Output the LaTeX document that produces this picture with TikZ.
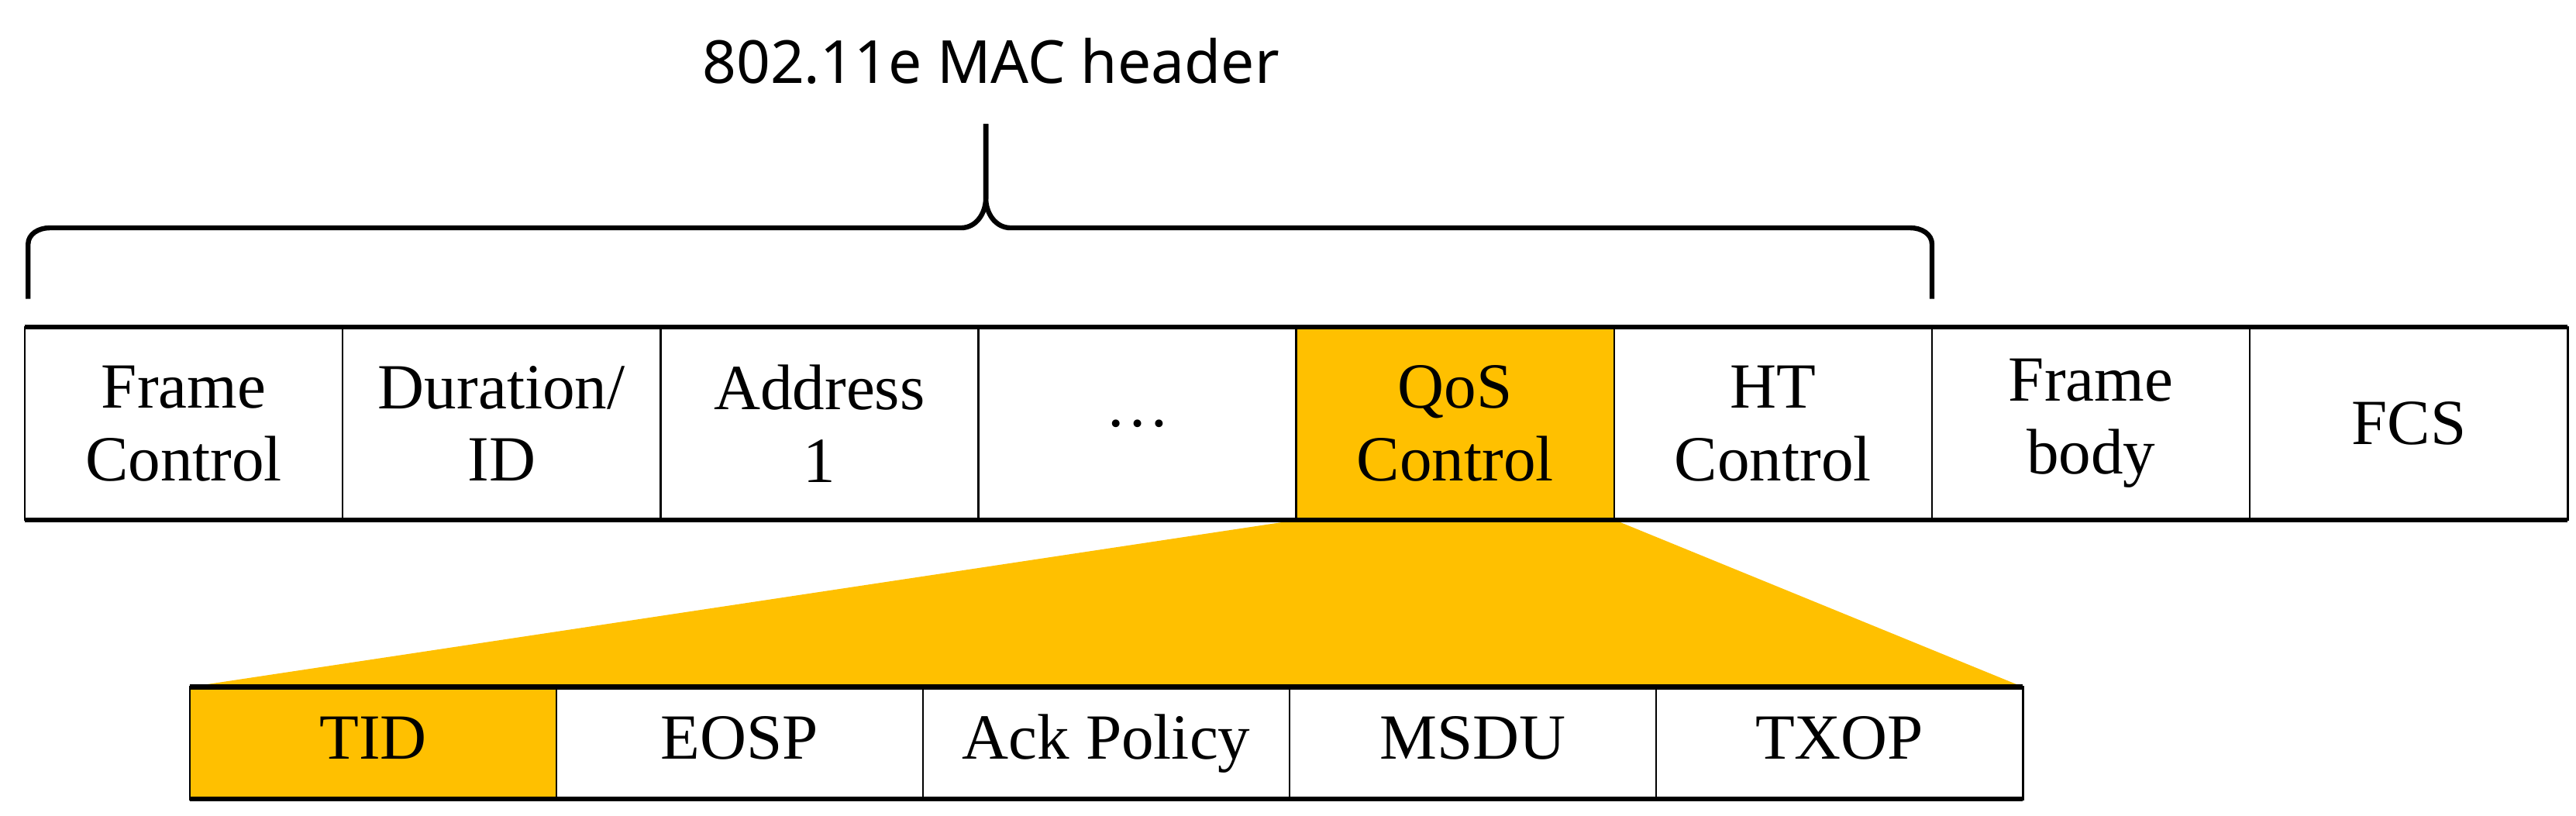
\documentclass[tikz,border=0pt]{standalone}
\usepackage{fontspec}
\setmainfont{Liberation Serif}
\newfontfamily\sans{Noto Sans}
\definecolor{gold}{HTML}{FFC000}
\begin{document}
\begin{tikzpicture}[x=1pt,y=-1pt,
  cell/.style={draw=black,line width=1.2pt,minimum height=#1,inner sep=0pt,outer sep=0pt,align=center,font=\fontsize{39}{44}\selectfont},
  top/.style={cell=117pt,minimum width=192.5pt,anchor=north west},
  sub/.style={cell=68pt,minimum width=222pt,anchor=north west,text height=27pt,text depth=8pt}]
\useasboundingbox (0,0) rectangle (1560,494);
% trapezoid
\fill[gold] (785,315) -- (978,315) -- (1225,416) -- (115,416) -- cycle;
% top row
\foreach \i/\t/\c [count=\k from 0] in {fc/{Frame\\Control}/white,dur/{Duration/\\ID}/white,a1/{Address\\1}/white,dots/{\dots}/white,qos/{QoS\\Control}/gold,ht/{HT\\Control}/white,fb/{Frame\\body}/white,fcs/{FCS}/white}
  \node[top,fill=\c] (\i) at ({15+192.5*\k},198) {\t};
\draw[line width=3pt] (fc.north west) -- (fcs.north east) (fc.south west) -- (fcs.south east);
% bottom row
\foreach \i/\t/\c [count=\k from 0] in {tid/TID/gold,eosp/EOSP/white,ack/{Ack Policy}/white,msdu/MSDU/white,txop/TXOP/white}
  \node[sub,fill=\c] (\i) at ({115+222*\k},416) {\t};
\draw[line width=3pt] (tid.north west) -- (txop.north east) (tid.south west) -- (txop.south east);
% brace
\coordinate (bl) at (17,181);
\coordinate (br) at (1170,181);
\coordinate (bt) at (597,75);
\draw[line width=3pt,line join=round] (bl) -- (17,148) to[out=90,in=180] (30,138) -- (582,138) to[out=0,in=270] (597,120) -- (bt);
\draw[line width=3pt,line join=round] (bt) -- (597,120) to[out=270,in=180] (612,138) -- (1157,138) to[out=0,in=90] (1170,148) -- (br);
\node[font=\sans\fontsize{36}{40}\selectfont] (title) at (600,37) {802.11e MAC header};
\end{tikzpicture}
\end{document}
